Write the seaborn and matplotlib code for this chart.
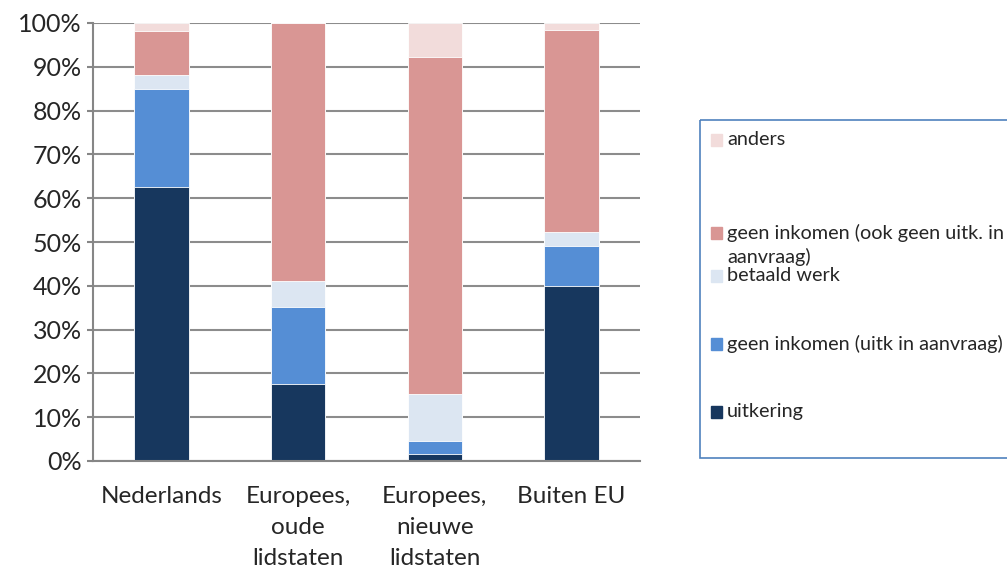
import numpy as np
import pandas as pd
import matplotlib
matplotlib.use("Agg")
import matplotlib.pyplot as plt
from matplotlib.patches import Rectangle
import seaborn as sns

# Data (percentages)
groups = ['Nederlands', 'Europees,\noude\nlidstaten', 'Europees,\nnieuwe\nlidstaten', 'Buiten EU']
series = ['uitkering', 'geen inkomen (uitk in aanvraag)', 'betaald werk',
          'geen inkomen (ook geen uitk. in\naanvraag)', 'anders']
uitkering = [62.6, 17.6, 1.5, 39.9]
geen_ink_aanvraag = [22.3, 17.6, 3.1, 9.2]
betaald_werk = [3.2, 5.9, 10.8, 3.1]
geen_ink_ook = [10.1, 58.9, 76.8, 46.1]
anders = [1.8, 0.0, 7.8, 1.7]
colors = ['#17375E', '#558ED5', '#DCE6F2', '#D99694', '#F2DCDB']

df = pd.DataFrame({'groep': groups,
                   series[0]: uitkering, series[1]: geen_ink_aanvraag,
                   series[2]: betaald_werk, series[3]: geen_ink_ook,
                   series[4]: anders})
cum = df[series].cumsum(axis=1)

sns.set_style("white")
plt.rcParams['font.family'] = ['Lato', 'DejaVu Sans']

fig = plt.figure(figsize=(10.07, 5.70), dpi=100)
ax = fig.add_axes([93/1007, 1 - 461/570, 547/1007, 438/570])

# stacked bars: draw cumulative totals, top layer first
for s, c in reversed(list(zip(series, colors))):
    sns.barplot(x='groep', y=cum[s], data=df.assign(**{s: cum[s]}), color=c,
                width=0.4, ax=ax, saturation=1, edgecolor='white', linewidth=0.6)

ax.set_ylim(0, 100)
ax.set_xlim(-0.5, 3.5)
ax.set_yticks(np.arange(0, 101, 10))
ax.set_yticklabels([f'{v}%' for v in range(0, 101, 10)], fontsize=18)
ax.set_xticks(range(4))
ax.set_xticklabels(groups, fontsize=17.5, linespacing=1.6)
ax.set_xticks(np.arange(-0.5, 4, 1), minor=True)
ax.tick_params(axis='x', which='major', length=0, pad=18)
ax.tick_params(axis='x', which='minor', length=7, width=1.5, color='#868686', direction='out')
ax.tick_params(axis='y', length=4, width=1.5, color='#868686', pad=4, left=True)
ax.set_xlabel('')
ax.set_ylabel('')
ax.yaxis.grid(True, color='#8C8C8C', linewidth=1.5)
ax.set_axisbelow(True)
for side in ['top', 'right']:
    ax.spines[side].set_visible(False)
for side in ['left', 'bottom']:
    ax.spines[side].set_color('#868686')
    ax.spines[side].set_linewidth(1.5)

# legend box, Excel style
lax = fig.add_axes([700/1007, 1 - 458/570, 320/1007, 338/570])
lax.set_xlim(0, 320)
lax.set_ylim(338, 0)
lax.axis('off')
lax.add_patch(Rectangle((0, 0), 320, 338, fill=False, edgecolor='#4F81BD',
                        linewidth=1.2, clip_on=False))
entries = [(series[4], colors[4], 20), (series[3], colors[3], 113),
           (series[2], colors[2], 156), (series[1], colors[1], 224),
           (series[0], colors[0], 292)]
for lbl, c, y in entries:
    lax.add_patch(Rectangle((11, y - 6), 11, 12, color=c))
    lax.text(27, y - 9, lbl, fontsize=14.3, va='top', ha='left', linespacing=1.4)

fig.savefig('out.png', dpi=100)
